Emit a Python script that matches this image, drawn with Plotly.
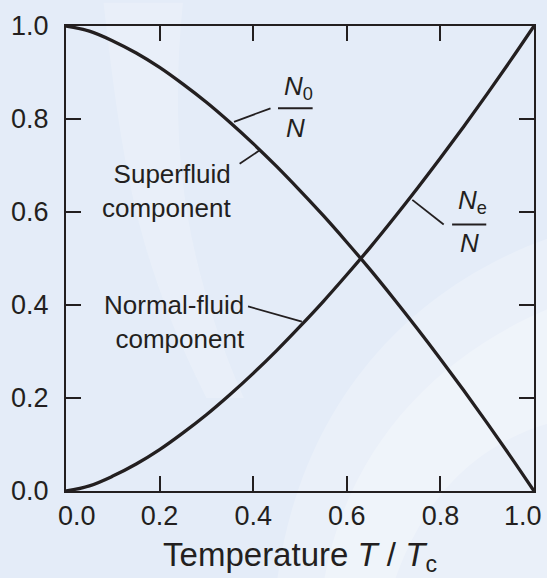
import plotly.graph_objects as go

# Reduced temperature T/Tc
t_values = [0.0, 0.05, 0.10, 0.15, 0.20, 0.25, 0.30, 0.35, 0.40, 0.45, 0.50,
            0.55, 0.60, 0.65, 0.70, 0.75, 0.80, 0.85, 0.90, 0.95, 1.0]
# Normal-fluid fraction Ne/N
normal_frac = [0.0, 0.011, 0.032, 0.058, 0.089, 0.125, 0.164, 0.207, 0.253, 0.302, 0.354,
               0.408, 0.465, 0.524, 0.586, 0.650, 0.716, 0.784, 0.854, 0.926, 1.0]
# Superfluid fraction N0/N
super_frac = [1.0, 0.989, 0.968, 0.942, 0.911, 0.875, 0.836, 0.793, 0.747, 0.698, 0.646,
              0.592, 0.535, 0.476, 0.414, 0.350, 0.284, 0.216, 0.146, 0.074, 0.0]

x_ticks = [0.0, 0.2, 0.4, 0.6, 0.8, 1.0]
y_ticks = [0.0, 0.2, 0.4, 0.6, 0.8, 1.0]
x_tick_labels = ["0.0", "0.2", "0.4", "0.6", "0.8", "1.0"]
y_tick_labels = ["0.0", "0.2", "0.4", "0.6", "0.8", "1.0"]

INK = "#231f20"
FONT = "Liberation Sans, Arial, Helvetica, sans-serif"
TICK_SIZE = 27

fig = go.Figure()
fig.add_trace(go.Scatter(x=t_values, y=super_frac, mode="lines",
                         line=dict(color=INK, width=3.3, shape="spline"),
                         hoverinfo="skip", showlegend=False, cliponaxis=False))
fig.add_trace(go.Scatter(x=t_values, y=normal_frac, mode="lines",
                         line=dict(color=INK, width=3.3, shape="spline"),
                         hoverinfo="skip", showlegend=False, cliponaxis=False))

shapes = []
# soft lighter swirl in background
shapes.append(dict(type="path", xref="paper", yref="paper", layer="below",
                   path="M 0.45,-0.2 C 0.5,0.2 0.75,0.45 1.05,0.55 L 1.05,-0.2 Z",
                   fillcolor="rgba(255,255,255,0.22)", line=dict(width=0)))
shapes.append(dict(type="path", xref="paper", yref="paper", layer="below",
                   path="M 0.55,-0.2 C 0.6,0.1 0.8,0.3 1.05,0.4 L 1.05,0.15 C 0.85,0.1 0.75,-0.05 0.7,-0.2 Z",
                   fillcolor="rgba(255,255,255,0.25)", line=dict(width=0)))
shapes.append(dict(type="path", xref="paper", yref="paper", layer="below",
                   path="M 0.08,1.05 C 0.12,0.7 0.15,0.5 0.3,0.2 L 0.38,0.2 C 0.25,0.5 0.22,0.75 0.25,1.05 Z",
                   fillcolor="rgba(255,255,255,0.18)", line=dict(width=0)))
# leader lines and fraction bars (data coords)
lines = [
    (0.359, 0.794, 0.437, 0.823, 1.8),
    (0.453, 0.823, 0.527, 0.823, 2.0),
    (0.371, 0.704, 0.413, 0.732, 1.8),
    (0.740, 0.626, 0.807, 0.573, 1.8),
    (0.825, 0.573, 0.898, 0.573, 2.0),
    (0.389, 0.397, 0.504, 0.364, 1.8),
]
for x0, y0, x1, y1, w in lines:
    shapes.append(dict(type="line", xref="x", yref="y", x0=x0, y0=y0, x1=x1, y1=y1,
                       line=dict(color=INK, width=w)))

ann_font = dict(family=FONT, size=26, color=INK)
annotations = [
    dict(x=0.497, y=0.868, text="<i>N</i><sub>0</sub>", xanchor="center", yanchor="middle"),
    dict(x=0.490, y=0.781, text="<i>N</i>", xanchor="center", yanchor="middle"),
    dict(x=0.869, y=0.622, text="<i>N</i><sub>e</sub>", xanchor="center", yanchor="middle"),
    dict(x=0.862, y=0.533, text="<i>N</i>", xanchor="center", yanchor="middle"),
    dict(x=0.357, y=0.645, text="Superfluid<br>component", xanchor="right", yanchor="middle", align="right"),
    dict(x=0.386, y=0.364, text="Normal-fluid<br>component", xanchor="right", yanchor="middle", align="right"),
]
for a in annotations:
    a.update(xref="x", yref="y", showarrow=False, font=ann_font)

# end x tick labels are nudged inward in the reference
x_label_font = dict(family=FONT, size=TICK_SIZE, color=INK)
annotations.append(dict(x=0.023, y=-0.054, xref="x", yref="paper", text=x_tick_labels[0],
                        showarrow=False, xanchor="center", yanchor="middle", font=x_label_font))
annotations.append(dict(x=0.977, y=-0.054, xref="x", yref="paper", text=x_tick_labels[-1],
                        showarrow=False, xanchor="center", yanchor="middle", font=x_label_font))
x_text_shown = [""] + x_tick_labels[1:-1] + [""]

axis_common = dict(
    range=[0, 1], showgrid=False, zeroline=False,
    showline=True, linecolor=INK, linewidth=2, mirror="ticks",
    ticks="inside", ticklen=15, tickwidth=1.5, tickcolor=INK,
    tickfont=dict(family=FONT, size=TICK_SIZE, color=INK),
)

fig.update_layout(
    width=547, height=578,
    margin=dict(l=64, r=11, t=21, b=86),
    paper_bgcolor="#e4ecf8",
    plot_bgcolor="rgba(0,0,0,0)",
    shapes=shapes,
    annotations=annotations,
    xaxis=dict(**axis_common, tickvals=x_ticks, ticktext=x_text_shown,
               title=dict(text="Temperature <i>T</i> / <i>T</i><sub>c</sub>",
                          font=dict(family=FONT, size=33, color=INK), standoff=12)),
    yaxis=dict(**axis_common, tickvals=y_ticks, ticktext=y_tick_labels, ticklabelstandoff=10),
)

fig.write_html("out.html")
